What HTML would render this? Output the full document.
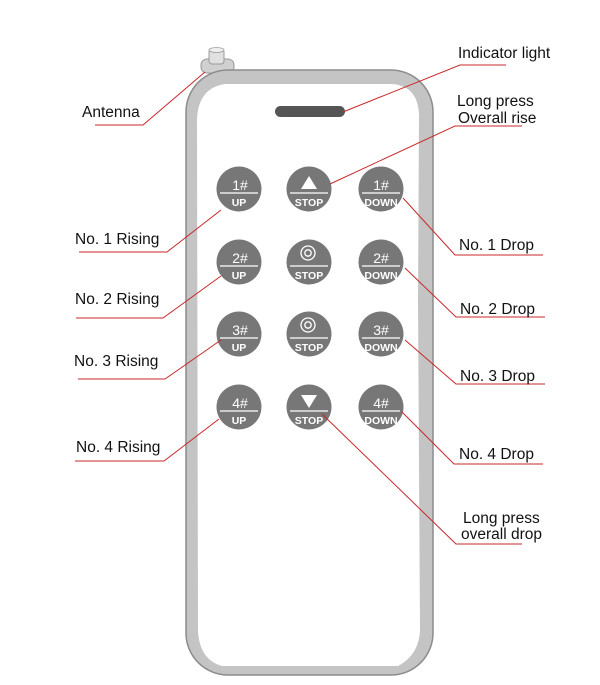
<!DOCTYPE html>
<html><head><meta charset="utf-8"><style>
html,body{margin:0;padding:0;background:#fff;width:600px;height:685px;overflow:hidden}
svg{display:block}
.t{font-family:"Liberation Sans",Arial,sans-serif;font-size:15.5px;fill:#111}
.b{font-family:"Liberation Sans",sans-serif;fill:#fff;text-anchor:middle}
</style></head><body>
<svg width="600" height="685" viewBox="0 0 600 685" xmlns="http://www.w3.org/2000/svg">
<!-- antenna -->
<rect x="201" y="59" width="33" height="14" rx="6" fill="#d0d0d0" stroke="#999" stroke-width="1"/>
<rect x="209" y="49" width="15" height="15" rx="3" fill="#e0e0e0" stroke="#999" stroke-width="1"/>
<ellipse cx="216.5" cy="50" rx="7.5" ry="2.5" fill="#eee" stroke="#999" stroke-width="0.8"/>
<!-- body -->
<rect x="186" y="70" width="247" height="605" rx="42" fill="#c4c4c4" stroke="#8c8c8c" stroke-width="1.5"/>
<path d="M225 84 L392 84 Q418 86 419 115 L418 300 L420 630 Q419 655 398 666 L222 666 Q200 660 198 632 L197 120 Q198 88 225 84 Z" fill="#fff"/>
<!-- indicator -->
<rect x="275" y="106" width="70" height="11" rx="5.5" fill="#555"/>
<!-- buttons -->
<g fill="#777">
<circle cx="239" cy="189" r="22.5"/><circle cx="309" cy="189" r="22.5"/><circle cx="381" cy="189" r="22.5"/>
<circle cx="239" cy="262" r="22.5"/><circle cx="309" cy="262" r="22.5"/><circle cx="381" cy="262" r="22.5"/>
<circle cx="239" cy="334" r="22.5"/><circle cx="309" cy="334" r="22.5"/><circle cx="381" cy="334" r="22.5"/>
<circle cx="239" cy="407" r="22.5"/><circle cx="309" cy="407" r="22.5"/><circle cx="381" cy="407" r="22.5"/>
</g>
<g stroke="#fff" stroke-width="1.2">
<line x1="220" y1="193" x2="258" y2="193"/><line x1="290" y1="193" x2="328" y2="193"/><line x1="362" y1="193" x2="400" y2="193"/>
<line x1="220" y1="266" x2="258" y2="266"/><line x1="290" y1="266" x2="328" y2="266"/><line x1="362" y1="266" x2="400" y2="266"/>
<line x1="220" y1="338" x2="258" y2="338"/><line x1="290" y1="338" x2="328" y2="338"/><line x1="362" y1="338" x2="400" y2="338"/>
<line x1="220" y1="411" x2="258" y2="411"/><line x1="290" y1="411" x2="328" y2="411"/><line x1="362" y1="411" x2="400" y2="411"/>
</g>
<g class="b" font-size="14">
<text x="240" y="190">1#</text><text x="381" y="190">1#</text>
<text x="240" y="263">2#</text><text x="381" y="263">2#</text>
<text x="240" y="335">3#</text><text x="381" y="335">3#</text>
<text x="240" y="408">4#</text><text x="381" y="408">4#</text>
</g>
<g class="b" font-size="10.5" font-weight="bold">
<text x="239" y="206">UP</text><text x="309" y="206">STOP</text><text x="381" y="206">DOWN</text>
<text x="239" y="279">UP</text><text x="309" y="279">STOP</text><text x="381" y="279">DOWN</text>
<text x="239" y="351">UP</text><text x="309" y="351">STOP</text><text x="381" y="351">DOWN</text>
<text x="239" y="424">UP</text><text x="309" y="424">STOP</text><text x="381" y="424">DOWN</text>
</g>
<polygon points="309,176 301,189 317,189" fill="#fff"/>
<polygon points="301,395 317,395 309,408" fill="#fff"/>
<g fill="none" stroke="#fff" stroke-width="1.3">
<circle cx="308" cy="253" r="7"/><circle cx="308" cy="253" r="3.2"/>
<circle cx="308" cy="325" r="7"/><circle cx="308" cy="325" r="3.2"/>
</g>
<!-- leaders -->
<g stroke="#c8282a" stroke-width="1" fill="none">
<polyline points="95,125 143,125 205,72"/>
<polyline points="506,65 460,65 343,112"/>
<polyline points="522,126 455,126 330,184"/>
<polyline points="79,252 167,252 221,210"/>
<polyline points="76,318 163,318 221,276"/>
<polyline points="78,379 165,379 221,340"/>
<polyline points="75,461 164,461 219,419"/>
<polyline points="543,255 455,255 403,198"/>
<polyline points="545,317 456,317 405,268"/>
<polyline points="545,384 456,384 405,340"/>
<polyline points="543,464 454,464 402,412"/>
<polyline points="522,544 456,544 322,414"/>
</g>
<g class="t">
<text x="82" y="117">Antenna</text>
<text x="458" y="58">Indicator light</text>
<text x="457" y="106">Long press</text>
<text x="458" y="123">Overall rise</text>
<text x="75" y="244">No. 1 Rising</text>
<text x="75" y="304">No. 2 Rising</text>
<text x="74" y="366">No. 3 Rising</text>
<text x="76" y="452">No. 4 Rising</text>
<text x="459" y="250">No. 1 Drop</text>
<text x="460" y="314">No. 2 Drop</text>
<text x="460" y="381">No. 3 Drop</text>
<text x="459" y="459">No. 4 Drop</text>
<text x="463" y="523">Long press</text>
<text x="461" y="539">overall drop</text>
</g>
</svg>
</body></html>
